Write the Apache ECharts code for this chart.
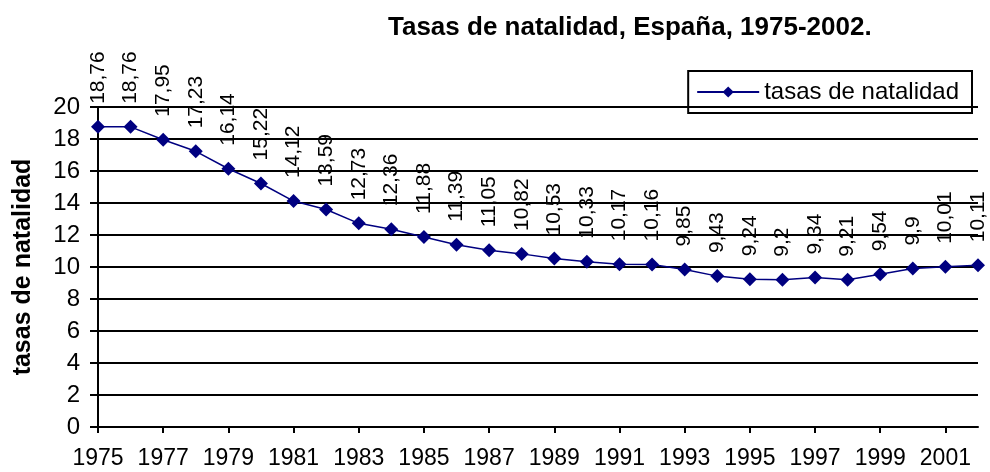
<!DOCTYPE html>
<html><head><meta charset="utf-8">
<script src="https://cdn.jsdelivr.net/npm/echarts@6/dist/echarts.min.js"></script>
<style>html,body{margin:0;padding:0;background:#fff}#c{width:990px;height:472px}</style>
</head><body><div id="c"></div>
<script>
const years = ['1975','1976','1977','1978','1979','1980','1981','1982','1983','1984','1985','1986','1987','1988','1989','1990','1991','1992','1993','1994','1995','1996','1997','1998','1999','2000','2001','2002'];
const natalidad = [18.76,18.76,17.95,17.23,16.14,15.22,14.12,13.59,12.73,12.36,11.88,11.39,11.05,10.82,10.53,10.33,10.17,10.16,9.85,9.43,9.24,9.2,9.34,9.21,9.54,9.9,10.01,10.11];
const titleText = 'Tasas de natalidad, España, 1975-2002.';
const seriesName = 'tasas de natalidad';
const yAxisName = 'tasas de natalidad';

const chart = echarts.init(document.getElementById('c'));
const F = 'Liberation Sans, Arial, sans-serif';
chart.setOption({
  animation: false,
  backgroundColor: '#fff',
  title: {
    text: titleText, left: 383, top: 10,
    textStyle: {fontFamily: F, fontSize: 26, fontWeight: 'bold', color: '#000'}
  },
  legend: {
    right: 18, top: 71,
    data: [seriesName],
    borderColor: '#000', borderWidth: 2, padding: [9, 13, 9, 8],
    itemWidth: 62, itemHeight: 14, itemGap: 5,
    textStyle: {fontFamily: F, fontSize: 24, color: '#000'}
  },
  grid: {left: 98, right: 12, top: 107, bottom: 45},
  xAxis: {
    type: 'category', data: years, boundaryGap: false,
    axisLine: {lineStyle: {color: '#000', width: 2}},
    axisTick: {interval: 1, length: 6, lineStyle: {color: '#000', width: 2}},
    axisLabel: {interval: 1, margin: 20, fontFamily: F, fontSize: 23, color: '#000'},
    splitLine: {show: false}
  },
  yAxis: {
    type: 'value', min: 0, max: 20, interval: 2,
    name: yAxisName, nameLocation: 'middle', nameGap: 62, nameRotate: 90,
    nameTextStyle: {fontFamily: F, fontSize: 25, fontWeight: 'bold', color: '#000'},
    axisLine: {show: true, lineStyle: {color: '#000', width: 2}},
    axisTick: {show: true, length: 8, lineStyle: {color: '#000', width: 2}},
    axisLabel: {margin: 18, fontFamily: F, fontSize: 24, color: '#000'},
    splitLine: {lineStyle: {color: '#000', width: 2}}
  },
  series: [{
    name: seriesName, type: 'line', data: natalidad,
    symbol: 'diamond', symbolSize: 14,
    itemStyle: {color: '#000080'},
    lineStyle: {color: '#000080', width: 1.5},
    label: {
      show: true, position: 'top', distance: 16, rotate: 90,
      align: 'left', verticalAlign: 'middle',
      fontFamily: F, fontSize: 21, color: '#000',
      formatter: p => String(p.value).replace('.', ',')
    }
  }]
});
</script></body></html>
